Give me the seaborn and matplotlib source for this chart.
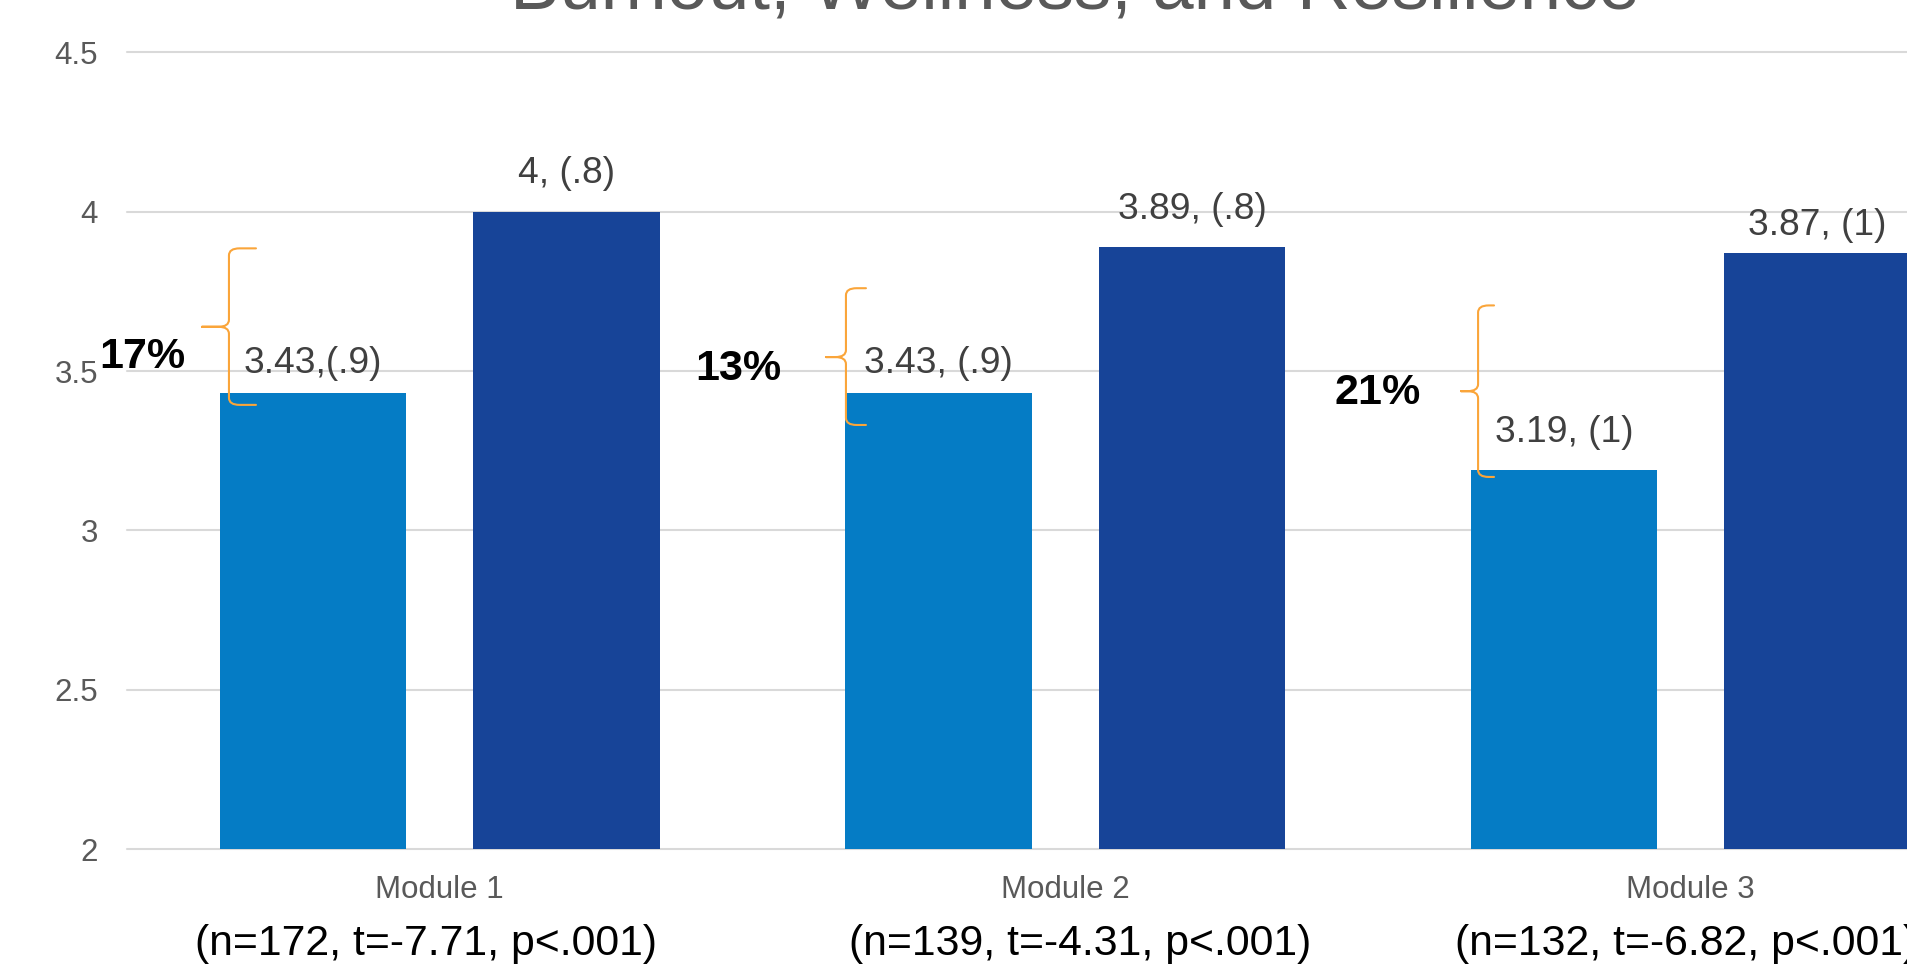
import matplotlib
matplotlib.use("Agg")
import matplotlib.pyplot as plt
import numpy as np
import pandas as pd
import seaborn as sns
from matplotlib.path import Path
from matplotlib.patches import PathPatch
from matplotlib.transforms import blended_transform_factory

# ---- data -------------------------------------------------------------
title = "Burnout, Wellness, and Resilience"
modules = ["Module 1", "Module 2", "Module 3"]
stats_labels = ["(n=172, t=-7.71, p<.001)",
                "(n=139, t=-4.31, p<.001)",
                "(n=132, t=-6.82, p<.001)"]
pre_scores = [3.43, 3.43, 3.19]
post_scores = [4.00, 3.89, 3.87]
pre_labels = ["3.43,(.9)", "3.43, (.9)", "3.19, (1)"]
post_labels = ["4, (.8)", "3.89, (.8)", "3.87, (1)"]
y_ticks = [2, 2.5, 3, 3.5, 4, 4.5]
y_tick_labels = ["2", "2.5", "3", "3.5", "4", "4.5"]

df = pd.DataFrame({
    "module": modules * 2,
    "time": ["Pre"] * len(modules) + ["Post"] * len(modules),
    "score": pre_scores + post_scores,
})

# ---- style ------------------------------------------------------------
LIGHT = "#057CC5"
DARK = "#174498"
ORANGE = "#FAA53A"
GRID = "#D9D9D9"
TICK_GRAY = "#595959"
LABEL_GRAY = "#404040"

sns.set_theme(style="white")
plt.rcParams["font.family"] = ["Liberation Sans", "DejaVu Sans"]

fig = plt.figure(figsize=(19.08, 9.69), dpi=100)
ax = fig.add_axes([0.06656, 0.12353, 0.98349, 0.82250])

sns.barplot(data=df, x="module", y="score", hue="time",
            hue_order=["Pre", "Post"], palette=[LIGHT, DARK],
            width=0.81, gap=0.264, saturation=1, errorbar=None,
            legend=False, linewidth=0, ax=ax)

ax.set_xlim(-0.5, 2.5)
ax.set_ylim(2, 4.5)
ax.set_yticks(y_ticks)
ax.set_yticklabels(y_tick_labels)
ax.set_xlabel("")
ax.set_ylabel("")
for s in ax.spines.values():
    s.set_visible(False)
ax.yaxis.grid(True, color=GRID, linewidth=1.5)
ax.xaxis.grid(False)
ax.set_axisbelow(True)
for gl in ax.get_ygridlines():
    gl.set_clip_on(False)
ax.tick_params(axis="y", length=0, pad=21, labelsize=22.5, labelcolor=TICK_GRAY)
ax.tick_params(axis="x", length=0, pad=18.5, labelsize=22.5, labelcolor=TICK_GRAY)

# value labels above each bar (baseline offsets in points)
pre_offsets = [14.8, 14.4, 20.4]
post_offsets = [20.4, 20.2, 13.2]
for cont, labels, offs in zip(ax.containers, [pre_labels, post_labels],
                              [pre_offsets, post_offsets]):
    for bar, lab, off in zip(cont, labels, offs):
        ax.annotate(lab, (bar.get_x() + bar.get_width() / 2, bar.get_height()),
                    xytext=(0, off), textcoords="offset points",
                    ha="center", va="baseline", fontsize=26.8,
                    color=LABEL_GRAY, annotation_clip=False)

# percent change from pre to post
gains = [round(100 * (b - a) / a) for a, b in zip(pre_scores, post_scores)]
pct_x = [-0.4752, 0.4778, 1.5000]
pct_y = [3.509, 3.473, 3.398]
for g, x, y in zip(gains, pct_x, pct_y):
    ax.text(x, y, f"{g}%", ha="center", va="baseline", fontsize=31,
            fontweight="bold", color="black", clip_on=False)


def curly_brace(ax, x_tip, x_v, x_arm, y_top, y_mid, y_bot, rx=0.017, ry=0.022):
    verts = [
        (x_arm, y_top), (x_v + rx, y_top),
        (x_v, y_top), (x_v, y_top - ry),
        (x_v, y_mid + ry),
        (x_v, y_mid), (x_v - rx, y_mid),
        (x_tip, y_mid),
        (x_v - rx, y_mid),
        (x_v, y_mid), (x_v, y_mid - ry),
        (x_v, y_bot + ry),
        (x_v, y_bot), (x_v + rx, y_bot),
        (x_arm, y_bot),
    ]
    codes = [Path.MOVETO, Path.LINETO,
             Path.CURVE3, Path.CURVE3,
             Path.LINETO,
             Path.CURVE3, Path.CURVE3,
             Path.LINETO,
             Path.LINETO,
             Path.CURVE3, Path.CURVE3,
             Path.LINETO,
             Path.CURVE3, Path.CURVE3,
             Path.LINETO]
    patch = PathPatch(Path(verts, codes), fill=False, edgecolor=ORANGE,
                      linewidth=1.5, capstyle="round", joinstyle="round",
                      clip_on=False, zorder=4)
    ax.add_patch(patch)


braces = [
    (-0.3801, -0.3370, -0.2938, 3.885, 3.639, 3.394),
    (0.6175, 0.6494, 0.6814, 3.760, 3.544, 3.331),
    (1.6328, 1.6600, 1.6855, 3.706, 3.437, 3.168),
]
for b in braces:
    curly_brace(ax, *b)

# test statistics under each module
stats_x = [-0.022, 1.0235, 1.993]
trans = blended_transform_factory(ax.transData, fig.transFigure)
for x, s in zip(stats_x, stats_labels):
    ax.text(x, 0.01445, s, transform=trans, ha="center", va="baseline",
            fontsize=30.8, color="black", clip_on=False)

fig.text(0.5632, 1 - 8 / 969, title, ha="center", va="baseline",
         fontsize=53.5, color=TICK_GRAY)

fig.savefig("out.png", dpi=100)
